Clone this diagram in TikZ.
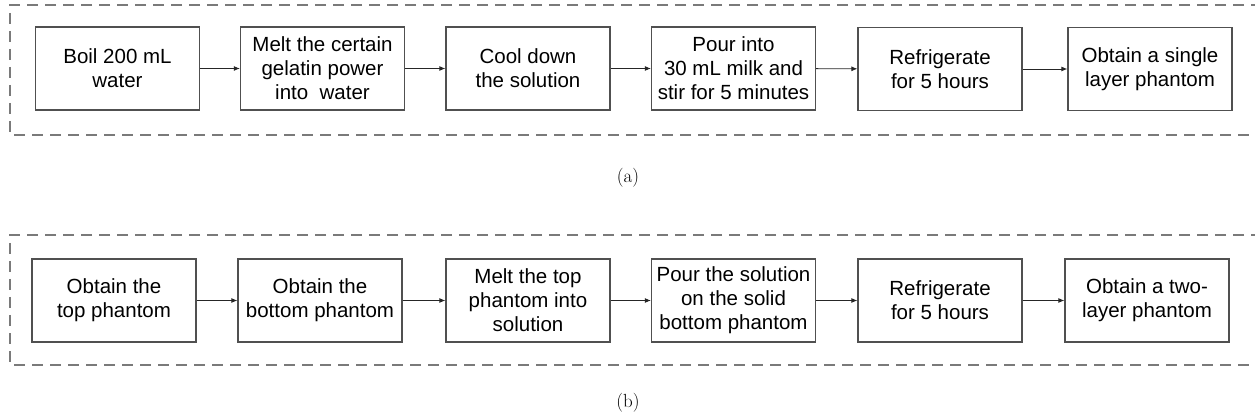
\documentclass[tikz,border=0pt]{standalone}
\usepackage{fontspec}
\newfontfamily\boxfont{Liberation Sans}
\usetikzlibrary{arrows.meta}
\definecolor{framegray}{HTML}{7A7A7A}
\definecolor{boxedge}{HTML}{505050}
\tikzset{
  stepbox/.style={draw=boxedge, line width=1.2pt, minimum width=164pt, minimum height=83pt,
    inner sep=0pt, align=center, font=\boxfont\fontsize{20.5}{24}\selectfont},
  flow/.style={draw=black!85, line width=0.9pt, -{Latex[length=6pt,width=5pt]}},
  frame/.style={draw=framegray, line width=1.4pt, dash pattern=on 11pt off 7pt},
  caption/.style={font=\fontsize{19}{23}\selectfont}
}
\begin{document}
\begin{tikzpicture}[x=1pt, y=-1pt]
\useasboundingbox (0,0) rectangle (1255,419);

% (a) single layer phantom
\draw[frame] (1262,5) -- (10,5) -- (10,135) -- (1262,135);
\node[stepbox] (a1) at (117.5,68.5) {Boil 200 mL\\water};
\node[stepbox] (a2) at (322.5,68.5) {Melt the certain\\gelatin power\\into\ \ water};
\node[stepbox] (a3) at (528,68.5) {Cool down\\the solution};
\node[stepbox] (a4) at (733.5,68.5) {Pour into\\30 mL milk and\\stir for 5 minutes};
\node[stepbox] (a5) at (940,69) {Refrigerate\\for 5 hours};
\node[stepbox] (a6) at (1150,69) {Obtain a single\\layer phantom};
\foreach \p/\q in {a1/a2,a2/a3,a3/a4,a4/a5,a5/a6}
  \draw[flow] (\p) -- (\q);
\node[caption] (capa) at (628,178) {(a)};

% (b) two-layer phantom
\draw[frame] (1262,235) -- (10,235) -- (10,365) -- (1262,365);
\node[stepbox] (b1) at (114,300.5) {Obtain the\\top phantom};
\node[stepbox] (b2) at (320,300.5) {Obtain the\\bottom phantom};
\node[stepbox] (b3) at (528,300.5) {Melt the top\\phantom into\\solution};
\node[stepbox] (b4) at (733.5,300.5) {Pour the solution\\on the solid\\bottom phantom};
\node[stepbox] (b5) at (940,300.5) {Refrigerate\\for 5 hours};
\node[stepbox] (b6) at (1147,300.5) {Obtain a two-\\layer phantom};
\foreach \p/\q in {b1/b2,b2/b3,b3/b4,b4/b5,b5/b6}
  \draw[flow] (\p) -- (\q);
\node[caption] (capb) at (628,403) {(b)};
\end{tikzpicture}
\end{document}
